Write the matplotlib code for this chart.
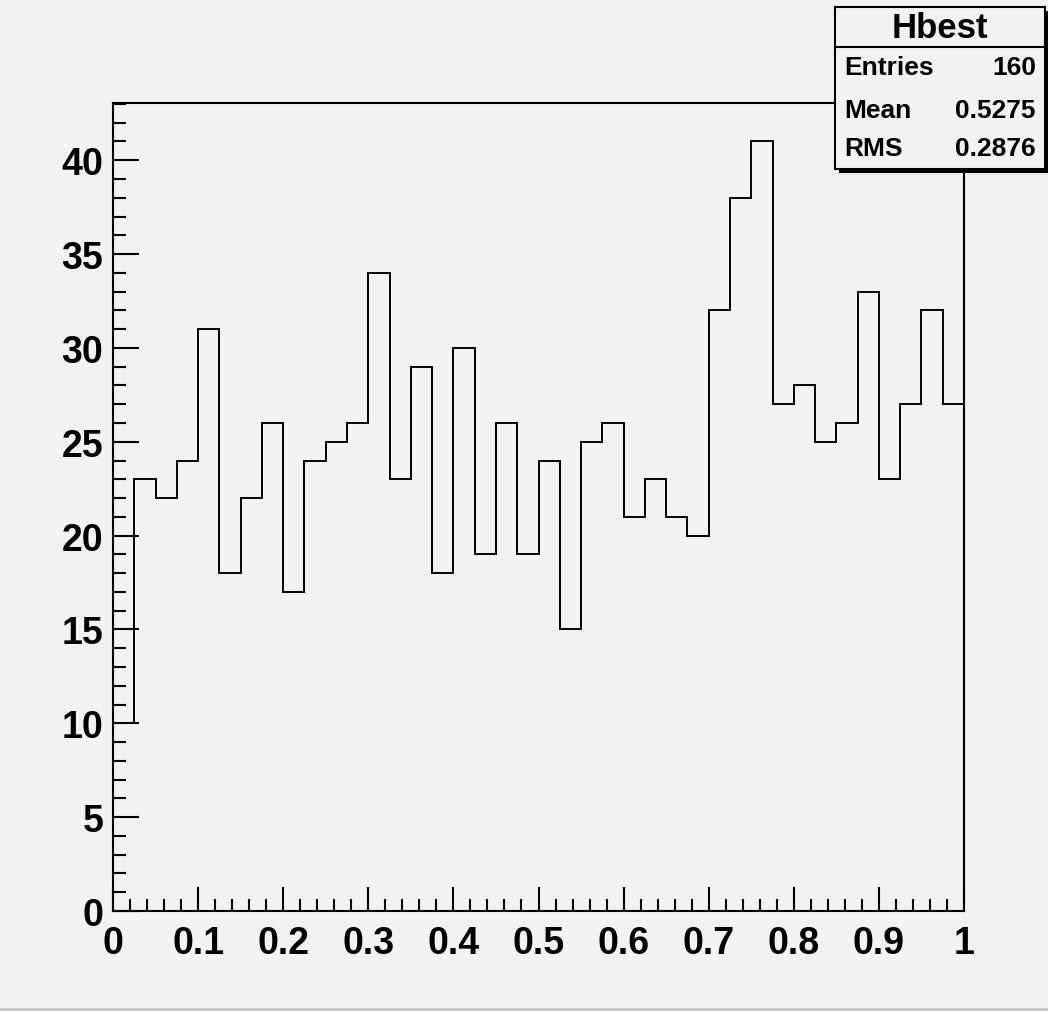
import numpy as np
import matplotlib
matplotlib.use("Agg")
import matplotlib.pyplot as plt
from matplotlib.patches import Rectangle
from matplotlib.ticker import MultipleLocator

# Histogram "Hbest": 40 bins on [0, 1]
bin_edges = np.linspace(0.0, 1.0, 41)
counts = [10, 23, 22, 24, 31, 18, 22, 26, 17, 24,
          25, 26, 34, 23, 29, 18, 30, 19, 26, 19,
          24, 15, 25, 26, 21, 23, 21, 20, 32, 38,
          41, 27, 28, 25, 26, 33, 23, 27, 32, 27]

x_ticks = [0, 0.1, 0.2, 0.3, 0.4, 0.5, 0.6, 0.7, 0.8, 0.9, 1]
x_tick_labels = ["0", "0.1", "0.2", "0.3", "0.4", "0.5", "0.6", "0.7", "0.8", "0.9", "1"]
y_ticks = [0, 5, 10, 15, 20, 25, 30, 35, 40]

stats_title = "Hbest"
stats_names = ["Entries", "Mean", "RMS"]
stats_values = ["160", "0.5275", "0.2876"]

bg = "#f2f2f2"
font = "Liberation Sans"

fig = plt.figure(figsize=(10.48, 10.12), dpi=100, facecolor=bg)
ax = fig.add_axes([113 / 1048, 1 - 912 / 1012, (964 - 113) / 1048, (912 - 104) / 1012])
ax.set_facecolor(bg)

ax.stairs(counts, bin_edges, color="black", linewidth=1.4, baseline=None)
ax.set_xlim(0, 1)
ax.set_ylim(0, 1.05 * max(counts))

for s in ax.spines.values():
    s.set_linewidth(1.5)
    s.set_color("black")

ax.xaxis.set_major_locator(MultipleLocator(0.1))
ax.xaxis.set_minor_locator(MultipleLocator(0.02))
ax.yaxis.set_major_locator(MultipleLocator(5))
ax.yaxis.set_minor_locator(MultipleLocator(1))
ax.set_xticks(x_ticks)
ax.set_xticklabels(x_tick_labels)
ax.set_yticks(y_ticks)
ax.set_yticklabels([str(v) for v in y_ticks])

ax.tick_params(axis="both", which="both", direction="in", width=1.5, color="black",
               top=False, right=False)
ax.tick_params(axis="x", which="major", length=17, pad=10)
ax.tick_params(axis="x", which="minor", length=8.5)
ax.tick_params(axis="y", which="major", length=19, pad=7)
ax.tick_params(axis="y", which="minor", length=9.5)
for lab in ax.get_xticklabels() + ax.get_yticklabels():
    lab.set_fontfamily(font)
    lab.set_fontweight("bold")
    lab.set_fontsize(27)

# Statistics box (figure pixel coordinates converted to fractions)
W, H = 1048, 1012
bx0, bx1, by0, by1 = 835, 1045, 8, 170
def fx(px):
    return px / W
def fy(py):
    return 1 - py / H

shadow = Rectangle((fx(bx0 + 4), fy(by1 + 4)), fx(bx1 - bx0), fy(by0) - fy(by1),
                   transform=fig.transFigure, facecolor="black", edgecolor="none", zorder=5)
box = Rectangle((fx(bx0), fy(by1)), fx(bx1 - bx0), fy(by0) - fy(by1),
                transform=fig.transFigure, facecolor=bg, edgecolor="black",
                linewidth=1.5, zorder=6)
fig.patches.extend([shadow, box])
fig.add_artist(plt.Line2D([fx(bx0), fx(bx1)], [fy(48), fy(48)], transform=fig.transFigure,
                          color="black", linewidth=1.5, zorder=7))
fig.text(fx((bx0 + bx1) / 2), fy(29), stats_title, ha="center", va="center",
         fontsize=25, fontweight="bold", family=font, zorder=8)
row_y = [68, 111, 149]
for name, val, yy in zip(stats_names, stats_values, row_y):
    fig.text(fx(844), fy(yy), name, ha="left", va="center", fontsize=19,
             fontweight="bold", family=font, zorder=8)
    fig.text(fx(1036), fy(yy), val, ha="right", va="center", fontsize=19,
             fontweight="bold", family=font, zorder=8)

# Window edge at the bottom
fig.add_artist(plt.Line2D([0, 1], [fy(1010), fy(1010)], transform=fig.transFigure,
                          color="#c8c8c8", linewidth=2))

fig.savefig("out.png", dpi=100, facecolor=bg)
